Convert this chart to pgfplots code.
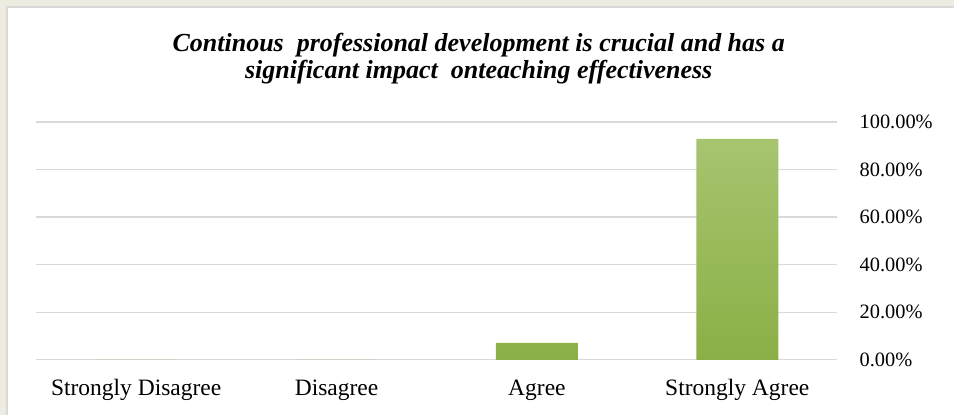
\documentclass[border=0pt]{standalone}
\usepackage{pgfplots}
\pgfplotsset{compat=1.18}
\usepackage{fontspec}
\setmainfont{Liberation Serif}
\definecolor{bgbeige}{RGB}{238,236,225}
\definecolor{gridgray}{RGB}{217,217,217}
\definecolor{bartop}{RGB}{167,196,111}
\definecolor{barbot}{RGB}{139,175,70}
\begin{document}
\begin{tikzpicture}[x=1pt,y=1pt]
\fill[bgbeige] (0,0) rectangle (955,415);
\fill[white] (7,0) rectangle (955,408);
\draw[gridgray, line width=1.2pt] (7,0) -- (7,408) -- (955,408);
\begin{axis}[
  at={(36pt,55pt)}, anchor=south west,
  scale only axis, width=802pt, height=238pt,
  xmin=-0.5, xmax=3.5, ymin=0, ymax=100,
  ybar, bar width=82pt,
  axis line style={draw=none},
  major tick length=0pt,
  ymajorgrids, grid style={gridgray, line width=1.4pt},
  ytick={0,20,...,100},
  yticklabel pos=right,
  yticklabel={\pgfmathprintnumber[fixed,fixed zerofill,precision=2]{\tick}\%},
  yticklabel style={anchor=west, inner sep=0pt, xshift=22pt, font=\fontsize{20.4}{24}\selectfont},
  xtick={0,1,2,3},
  xticklabels={Strongly Disagree,Disagree,Agree,Strongly Agree},
  xticklabel style={anchor=base, inner sep=0pt, yshift=-36pt, font=\fontsize{23.5}{28}\selectfont},
  /pgf/number format/assume math mode=true,
  clip=false,
]
\addplot[draw=none, top color=bartop, bottom color=barbot] coordinates {(0,0) (1,0) (2,7.14) (3,92.86)};
\end{axis}
\node[anchor=base, font=\bfseries\itshape\fontsize{26}{30}\selectfont] at (479,363) {Continous\ \ professional development is crucial and has a};
\node[anchor=base, font=\bfseries\itshape\fontsize{26}{30}\selectfont] at (479,336) {significant impact\ \ onteaching effectiveness};
\end{tikzpicture}
\end{document}
